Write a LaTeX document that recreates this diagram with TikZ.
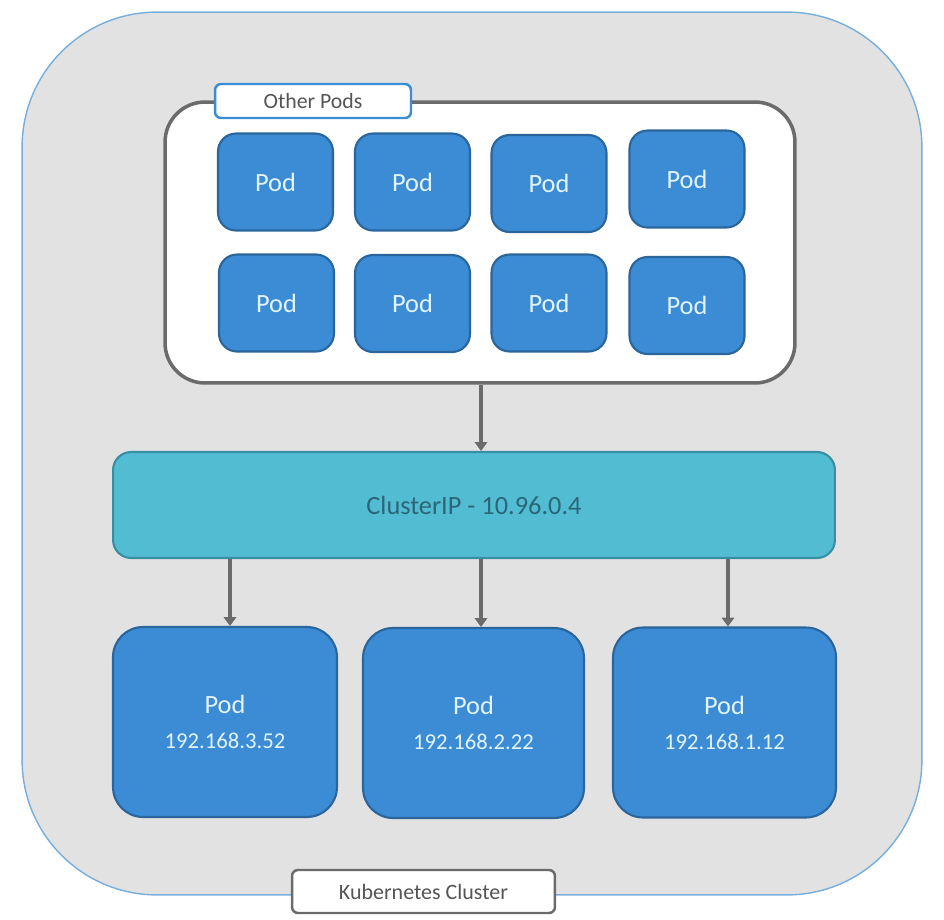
\documentclass[tikz,border=0pt]{standalone}
\usepackage{fontspec}
\setmainfont{Carlito}
\usetikzlibrary{arrows.meta}

\definecolor{podfill}{HTML}{3B8BD5}
\definecolor{podline}{HTML}{2A659C}
\definecolor{podtext}{HTML}{E2F4FB}
\definecolor{ipfill}{HTML}{52BDD2}
\definecolor{ipline}{HTML}{3A8EA3}
\definecolor{iptext}{HTML}{2B6678}
\definecolor{clfill}{HTML}{E2E2E2}
\definecolor{clline}{HTML}{76AEDC}
\definecolor{boxline}{HTML}{6B6B6B}
\definecolor{labeltext}{HTML}{555555}

\newcommand{\ipsize}{\fontsize{12.9}{15}\selectfont}

\tikzset{
	pod/.style={draw=podline, fill=podfill, line width=1.2pt, rounded corners=0.36cm,
		minimum width=2.3cm, minimum height=1.94cm, inner sep=0pt,
		text=podtext, font=\fontsize{15}{18}\selectfont},
	bigpod/.style={pod, rounded corners=0.6cm, minimum height=3.8cm,
		align=center, font=\fontsize{15}{22}\selectfont},
	tag/.style={draw, fill=white, line width=1.4pt, rounded corners=0.12cm,
		inner sep=0pt, text=labeltext},
	arr/.style={draw=boxline, line width=2pt, -{Triangle[width=7pt,length=5pt]}},
}

\begin{document}
\begin{tikzpicture}[x=0.02cm,y=-0.02cm]
	\useasboundingbox (0,0) rectangle (944,920);

	% cluster and the box of other pods
	\node[draw=clline, fill=clfill, line width=0.8pt, rounded corners=2.7cm,
		minimum width=18cm, minimum height=17.66cm] (cluster) at (472,453.5) {};
	\node[draw=boxline, fill=white, line width=2pt, rounded corners=0.8cm,
		minimum width=12.6cm, minimum height=5.62cm] (others) at (480,242.5) {};
	\node[tag, draw=podfill, minimum width=3.92cm, minimum height=0.68cm,
		font=\fontsize{12.4}{14}\selectfont] (otherslabel) at (313,101) {Other Pods};

	\node[pod] (p1) at (275.5,182) {Pod};
	\node[pod] (p2) at (412.5,182) {Pod};
	\node[pod] (p3) at (549,183.5) {Pod};
	\node[pod] (p4) at (687,179) {Pod};
	\node[pod] (p5) at (276.5,303) {Pod};
	\node[pod] (p6) at (412.5,303.5) {Pod};
	\node[pod] (p7) at (549,303) {Pod};
	\node[pod] (p8) at (687,305.5) {Pod};

	% service
	\node[draw=ipline, fill=ipfill, line width=1.2pt, rounded corners=0.36cm,
		minimum width=14.44cm, minimum height=2.12cm, text=iptext,
		font=\fontsize{15}{18}\selectfont] (clusterip) at (474,505) {ClusterIP - 10.96.0.4};

	\node[bigpod, minimum width=4.48cm] (podA) at (225,722) {Pod\\[-2pt] {\ipsize 192.168.3.52}};
	\node[bigpod, minimum width=4.42cm] (podB) at (473.5,723) {Pod\\[-2pt] {\ipsize 192.168.2.22}};
	\node[bigpod, minimum width=4.46cm] (podC) at (724.5,722.5) {Pod\\[-2pt] {\ipsize 192.168.1.12}};

	\coordinate (ta) at (230,0);
	\coordinate (tb) at (481,0);
	\coordinate (tc) at (728,0);
	\draw[arr] (others.south -| tb) -- (clusterip.north -| tb);
	\draw[arr] (clusterip.south -| ta) -- (podA.north -| ta);
	\draw[arr] (clusterip.south -| tb) -- (podB.north -| tb);
	\draw[arr] (clusterip.south -| tc) -- (podC.north -| tc);

	\node[tag, draw=boxline, minimum width=5.26cm, minimum height=0.86cm,
		font=\fontsize{12.5}{14}\selectfont] (clusterlabel) at (423.5,891.5) {Kubernetes Cluster};
\end{tikzpicture}
\end{document}
